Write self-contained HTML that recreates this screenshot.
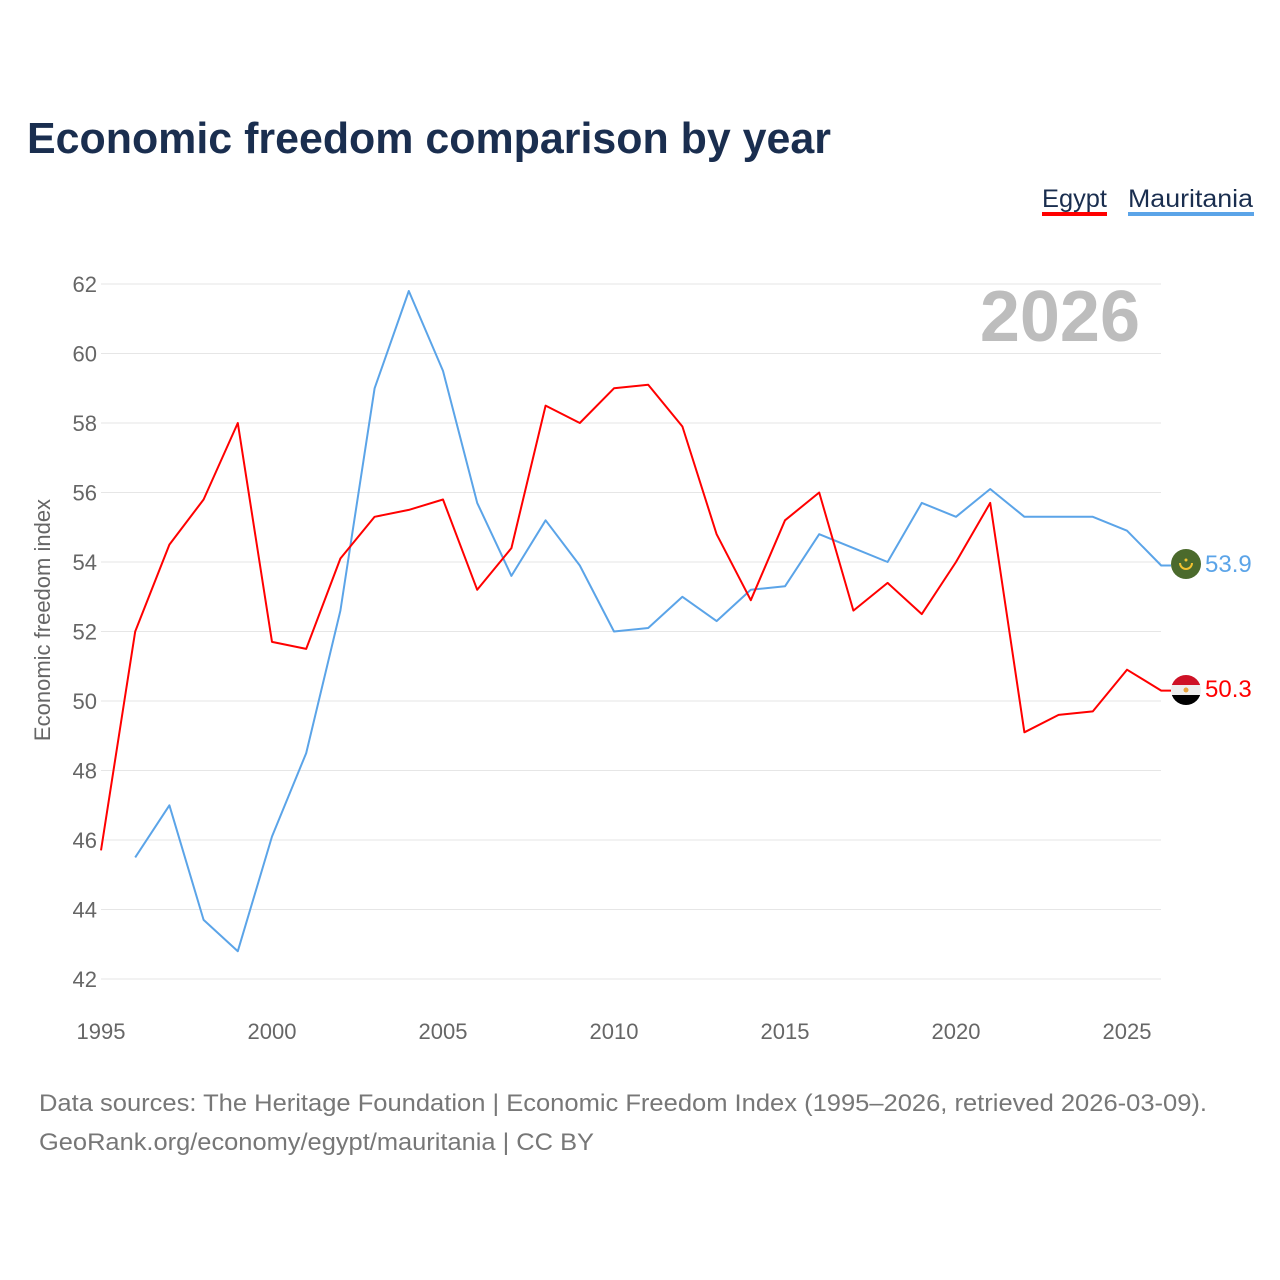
<!DOCTYPE html>
<html><head><meta charset="utf-8"><style>
body{margin:0;background:#fff;font-family:"Liberation Sans",sans-serif}
#wrap{position:relative;width:1280px;height:1280px;overflow:hidden}
</style></head><body>
<div id="wrap">
<svg id="svg" width="1280" height="1280" xmlns="http://www.w3.org/2000/svg">
<text x="27" y="153" font-size="44" font-weight="bold" fill="#1a2e4f" textLength="804" lengthAdjust="spacingAndGlyphs">Economic freedom comparison by year</text>
<g><text x="1042" y="207" font-size="25" fill="#1a2e4f" textLength="65" lengthAdjust="spacingAndGlyphs">Egypt</text><rect x="1042" y="212" width="65" height="4" fill="#ff0000"/></g>
<g><text x="1128" y="207" font-size="25" fill="#1a2e4f" textLength="125" lengthAdjust="spacingAndGlyphs">Mauritania</text><rect x="1128" y="212" width="126" height="4" fill="#5ba4e8"/></g>
<text x="1140" y="341" font-size="72" font-weight="bold" fill="#bdbdbd" text-anchor="end">2026</text>
<text transform="translate(50,620) rotate(-90)" font-size="22" fill="#666" text-anchor="middle">Economic freedom index</text>
<g id="grid"></g><g id="lines"></g>
<g><circle cx="1186" cy="564" r="15" fill="#4b6a2c"/><path d="M1180 563 a6 6 0 0 0 12 0" stroke="#f2c230" stroke-width="2" fill="none"/><circle cx="1186" cy="560" r="1.5" fill="#f2c230"/></g>
<g><clipPath id="ec"><circle cx="1186" cy="690" r="15"/></clipPath><g clip-path="url(#ec)"><rect x="1170" y="674" width="32" height="11" fill="#ce1126"/><rect x="1170" y="685" width="32" height="10" fill="#eee"/><rect x="1170" y="695" width="32" height="11" fill="#000"/><circle cx="1186" cy="690" r="2.5" fill="#e8a33c"/></g></g>
<text x="1205" y="572" font-size="24" fill="#5ba4e8">53.9</text>
<text x="1205" y="697" font-size="24" fill="#ff0000">50.3</text>
<text x="39" y="1111" font-size="24" fill="#777" textLength="1168" lengthAdjust="spacingAndGlyphs">Data sources: The Heritage Foundation | Economic Freedom Index (1995–2026, retrieved 2026-03-09).</text>
<text x="39" y="1150" font-size="24" fill="#777" textLength="555" lengthAdjust="spacingAndGlyphs">GeoRank.org/economy/egypt/mauritania | CC BY</text>
</svg></div>
<script>
const years=[1995,1996,1997,1998,1999,2000,2001,2002,2003,2004,2005,2006,2007,2008,2009,2010,2011,2012,2013,2014,2015,2016,2017,2018,2019,2020,2021,2022,2023,2024,2025,2026];
const egypt=[45.7,52.0,54.5,55.8,58.0,51.7,51.5,54.1,55.3,55.5,55.8,53.2,54.4,58.5,58.0,59.0,59.1,57.9,54.8,52.9,55.2,56.0,52.6,53.4,52.5,54.0,55.7,49.1,49.6,49.7,50.9,50.3];
const mauritania=[null,45.5,47.0,43.7,42.8,46.1,48.5,52.6,59.0,61.8,59.5,55.7,53.6,55.2,53.9,52.0,52.1,53.0,52.3,53.2,53.3,54.8,54.4,54.0,55.7,55.3,56.1,55.3,55.3,55.3,54.9,53.9];
const yTicks=[42,44,46,48,50,52,54,56,58,60,62];
const xTicks=[1995,2000,2005,2010,2015,2020,2025];
const NS="http://www.w3.org/2000/svg";
const x=v=>101+(v-1995)*34.2;
const y=v=>979-(v-42)*34.75;
const grid=document.getElementById('grid'),lines=document.getElementById('lines');
function mk(t,a,p){const e=document.createElementNS(NS,t);for(const k in a)e.setAttribute(k,a[k]);p.appendChild(e);return e;}
yTicks.forEach(t=>{
 const l=mk('line',{x1:101,x2:1161,y1:y(t),y2:y(t),stroke:'#e6e6e6','stroke-width':1},grid);
 
 
 const tx=mk('text',{x:97,y:y(t)+8,'font-size':22,fill:'#666','text-anchor':'end'},grid);tx.textContent=t;
 
 
});
xTicks.forEach(t=>{
 const tx=mk('text',{x:x(t),y:1039,'font-size':22,fill:'#666','text-anchor':'middle'},grid);tx.textContent=t;
 
 
});
function series(vals,color,name){
 let d='';vals.forEach((v,i)=>{if(v==null)return;d+=(d?'L':'M')+x(years[i]).toFixed(1)+' '+y(v).toFixed(1);});
 const last=vals[vals.length-1];d+='L1171 '+y(last).toFixed(1);
 const p=mk('path',{d:d,fill:'none',stroke:color,'stroke-width':2,'stroke-linejoin':'round'},lines);
 
 
}
series(mauritania,'#5ba4e8','mauritania-line');
series(egypt,'#ff0000','egypt-line');
</script>
</body></html>
